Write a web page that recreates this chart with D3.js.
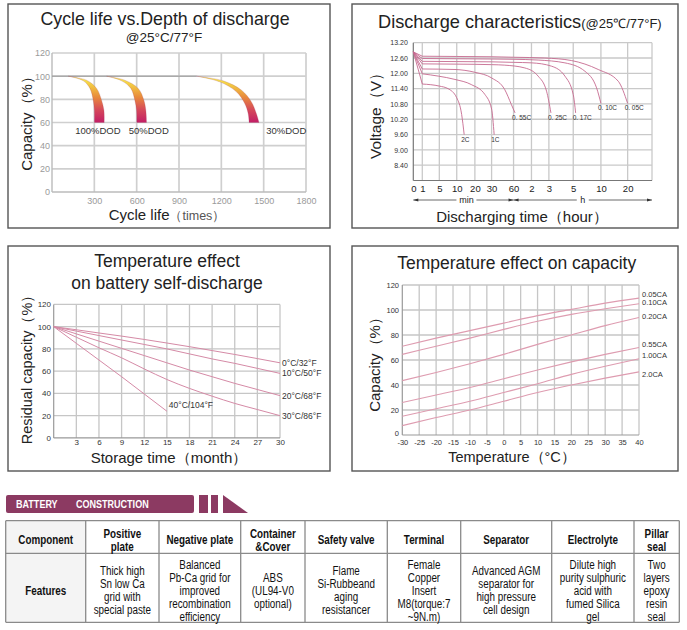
<!DOCTYPE html>
<html><head><meta charset="utf-8">
<script src="https://cdn.jsdelivr.net/npm/d3@7"></script>
<style>
body{margin:0;background:#fff}
svg{display:block}
text{font-family:"Liberation Sans",Arial,sans-serif}
</style>
</head><body>
<svg id="c" width="687" height="630"></svg>
<script>
// ================= DATA =================
// Panel 1: Cycle life vs depth of discharge
const cycleTicks = [300, 600, 900, 1200, 1500, 1800];
const capTicks = [0, 20, 40, 60, 80, 100, 120];
const dodLabels = ["100%DOD", "50%DOD", "30%DOD"];
const dodLabelAt = [325, 686, 1660];       // cycles
const dodInner = [
  [[115,100],[222,96],[269,89.4],[292,79.3],[300,70.6],[301,60]],
  [[387,100],[493,96],[559,89.4],[587,79.3],[599,70.6],[601,60]],
  [[1024,100],[1189,95.1],[1307,86.5],[1366,76.4],[1390,67.8],[1397,60]]
];
const dodOuter = [
  [[115,100],[245,96.5],[316,89.4],[351,79.3],[368,70.6],[370,60]],
  [[387,100],[516,96.5],[611,89.4],[651,79.3],[665,70.6],[670,60]],
  [[1024,100],[1213,96],[1343,87.9],[1413,77.8],[1448,67.8],[1467,60]]
];

// Panel 2: Discharge characteristics (time in minutes, voltage V)
const voltTicks = [8.4, 9.0, 9.6, 10.2, 10.8, 11.4, 12.0, 12.6, 13.2];
const timeTicks = [0, 1, 5, 10, 20, 30, 60, 120, 180, 300, 600, 1200];
const timeTickLabels = ["0","1","5","10","20","30","60","2","3","5","10","20"];
const rateNames = ["2C", "1C", "0. 55C", "0. 25C", "0. 17C", "0. 10C", "0. 05C"];
const rateCurves = [
  [[0,12.84],[1,11.58],[5,11.5],[7.5,11.4],[10,11.04],[12.7,10.39],[14.1,9.6]],
  [[0,12.84],[1,11.98],[4.8,11.89],[9.5,11.76],[18,11.56],[26,11.17],[30,10.6],[33.5,9.6]],
  [[0,12.84],[1,12.17],[9.5,12.15],[20,12.04],[30,11.82],[48,11.36],[57,10.78],[65,10.45]],
  [[0,12.84],[1,12.37],[10,12.36],[30,12.34],[48,12.32],[98,12.21],[143,11.89],[172,11.3],[190,10.45]],
  [[0,12.84],[1,12.47],[10,12.46],[30,12.45],[60,12.43],[121,12.41],[193,12.28],[259,11.89],[300,11.17],[326,10.45]],
  [[0,12.84],[1,12.58],[10,12.57],[30,12.56],[60,12.55],[143,12.52],[259,12.41],[427,12.08],[553,11.43],[600,10.82]],
  [[0,12.84],[1,12.67],[10,12.66],[30,12.65],[60,12.63],[166,12.6],[292,12.5],[571,12.15],[989,11.69],[1200,10.82]]
];

// Panel 3: self-discharge (months, residual capacity %)
const monthTicks = [3, 6, 9, 12, 15, 18, 21, 24, 27, 30];
const months = [0, 3, 6, 9, 12, 15, 18, 21, 24, 27, 30];
const storeNames = ["0°C/32°F", "10°C/50°F", "20°C/68°F", "30°C/86°F", "40°C/104°F"];
const storeValues = [
  [100, 97.2, 94.3, 91.5, 88.5, 85.3, 82, 78.5, 75, 71.3, 67.5],
  [100, 96, 92, 88, 84, 80, 75.5, 71, 67, 62.5, 58],
  [100, 93.5, 87, 80.5, 74, 67.5, 61, 55, 49, 43.5, 38],
  [100, 90.5, 81, 72, 62, 52.5, 44.5, 37.5, 31, 25.5, 20],
  [100, 85, 70, 55, 39.5, 24]
];

// Panel 4: temperature effect on capacity
const tempTicks = [-30,-25,-20,-15,-10,-5,0,5,10,15,20,25,30,35,40];
const temps = [-30, -20, -10, 0, 10, 20, 30, 40];
const caNames = ["0.05CA", "0.10CA", "0.20CA", "0.55CA", "1.00CA", "2.0CA"];
const caLabelAt = [112.8, 105.8, 95, 72.2, 63.4, 48.6];   // capacity level of each label
const caValues = [
  [71, 77.5, 83.5, 89.5, 95.5, 100.5, 105.5, 109.5],
  [64.5, 71, 77.5, 84.5, 91, 96.5, 101, 105],
  [43.5, 50, 57, 64.5, 72.5, 80, 87.5, 94],
  [26, 32, 38, 45, 52, 58.5, 64.5, 70],
  [15, 21, 27, 34, 41, 48.5, 55, 61],
  [7.5, 14, 20, 27, 34, 40, 45.5, 50.5]
];

// Table: battery construction
const tableHeaders = [["Component"],["Positive","plate"],["Negative plate"],["Container","&Cover"],["Safety valve"],["Terminal"],["Separator"],["Electrolyte"],["Pillar","seal"]];
const tableFeatures = [["Features"],
  ["Thick high","Sn low Ca","grid with","special paste"],
  ["Balanced","Pb-Ca grid for","improved","recombination","efficiency"],
  ["ABS","(UL94-V0","optional)"],
  ["Flame","Si-Rubbeand","aging","resistancer"],
  ["Female","Copper","Insert","M8(torque:7","~9N.m)"],
  ["Advanced AGM","separator for","high pressure","cell design"],
  ["Dilute high","purity sulphuric","acid with","fumed Silica","gel"],
  ["Two","layers","epoxy","resin","seal"]];

// ================= DRAW =================
const svg = d3.select("#c");
svg.append("rect").attr("width", 687).attr("height", 630).attr("fill", "#fff");
const defs = svg.append("defs");

function frame(x, y, w, h) {
  svg.append("rect").attr("x", x).attr("y", y).attr("width", w).attr("height", h)
    .attr("fill", "none").attr("stroke", "#555").attr("stroke-width", 1.4);
}
function grid(g, x, y, xv, yv, color, w) {
  const xr = x.range(), yr = y.range();
  const xa = xr[0], xb = xr[xr.length - 1], ya = yr[0], yb = yr[yr.length - 1];
  g.append("g").selectAll("line").data(xv).join("line")
    .attr("x1", d => x(d)).attr("x2", d => x(d)).attr("y1", ya).attr("y2", yb)
    .attr("stroke", color).attr("stroke-width", w);
  g.append("g").selectAll("line").data(yv).join("line")
    .attr("y1", d => y(d)).attr("y2", d => y(d)).attr("x1", xa).attr("x2", xb)
    .attr("stroke", color).attr("stroke-width", w);
}
function styleAxis(g, ff, fs, fill) {
  g.select(".domain").remove();
  g.selectAll(".tick line").remove();
  g.attr("font-family", ff).attr("font-size", fs);
  g.selectAll("text").attr("fill", fill);
}
function axisLine(g, x1, y1, x2, y2, c, w) {
  g.append("line").attr("x1", x1).attr("y1", y1).attr("x2", x2).attr("y2", y2)
    .attr("stroke", c).attr("stroke-width", w);
}
function yLabel(x, y, txt, fs) {
  svg.append("text").attr("transform", `translate(${x},${y}) rotate(-90)`)
    .attr("text-anchor", "middle").attr("dominant-baseline", "central")
    .attr("font-size", fs).attr("fill", "#222").text(txt);
}
// condense text horizontally (narrow face not installed)
function condense(sel, k) {
  sel.each(function () {
    const w = this.getComputedTextLength();
    d3.select(this).attr("textLength", w * k).attr("lengthAdjust", "spacingAndGlyphs");
  });
}
const plain = d => String(d);

// ---------- Panel 1 ----------
frame(8, 4, 322, 224);
{
  const g = svg.append("g");
  const x = d3.scaleLinear().domain([0, 1800]).range([52, 306]);
  const y = d3.scaleLinear().domain([0, 120]).range([192, 53]);
  grid(g, x, y, cycleTicks, capTicks.slice(1), "#cfcfcf", 1.7);
  axisLine(g, x(0), y(0), x(0), y(120), "#bbb", 1.4);
  axisLine(g, x(0), y(0), x(1800), y(0), "#bbb", 1.4);
  axisLine(g, x(0), y(100), x(dodInner[2][0][0]), y(100), "#8a8a8a", 0.8);
  const grad = defs.append("linearGradient").attr("id", "dodGrad")
    .attr("gradientUnits", "userSpaceOnUse").attr("x1", 0).attr("x2", 0)
    .attr("y1", y(100)).attr("y2", y(60));
  [[0, "#fbf262"], [0.15, "#f4d343"], [0.45, "#e88a3c"], [0.72, "#d64a5a"], [1, "#c21e66"]]
    .forEach(s => grad.append("stop").attr("offset", s[0]).attr("stop-color", s[1]));
  const ln = d3.line().x(d => x(d[0])).y(d => y(d[1])).curve(d3.curveCatmullRom);
  dodInner.forEach((inner, i) => {
    const outer = dodOuter[i].slice().reverse();
    const p = ln(inner) + ln(outer).replace(/^M/, "L") + "Z";
    g.append("path").attr("d", p).attr("fill", "url(#dodGrad)")
      .attr("stroke", "#9a3a5a").attr("stroke-opacity", 0.35).attr("stroke-width", 0.6);
    g.append("text").attr("x", x(dodLabelAt[i])).attr("y", y(50)).attr("text-anchor", "middle")
      .attr("font-size", 9.5).attr("fill", "#333").text(dodLabels[i]);
  });
  const ax = g.append("g").attr("transform", `translate(0,${y(0)})`)
    .call(d3.axisBottom(x).tickValues(cycleTicks).tickSize(0).tickPadding(5.5).tickFormat(plain));
  styleAxis(ax, "Liberation Serif", 9, "#9a9a9a");
  const ay = g.append("g").attr("transform", `translate(${x(0)},0)`)
    .call(d3.axisLeft(y).tickValues(capTicks).tickSize(0).tickPadding(2).tickFormat(plain));
  styleAxis(ay, "Liberation Serif", 9, "#9a9a9a");
  svg.append("text").attr("x", 165).attr("y", 25).attr("text-anchor", "middle")
    .attr("font-size", 17.8).attr("fill", "#222").text("Cycle life vs.Depth of discharge");
  svg.append("text").attr("x", 164).attr("y", 42).attr("text-anchor", "middle")
    .attr("font-size", 13.5).attr("fill", "#222").text("@25°C/77°F");
  yLabel(26, 120, "Capacity（%）", 15);
  const xl = svg.append("text").attr("x", 167).attr("y", 220).attr("text-anchor", "middle")
    .attr("fill", "#222").attr("font-size", 15);
  xl.append("tspan").text("Cycle life");
  xl.append("tspan").attr("font-size", 12.5).attr("fill", "#555").text("（times）");
}

// ---------- Panel 2 ----------
frame(352, 4, 326, 224);
{
  const g = svg.append("g");
  const L = 413.3, W = 238.7;
  const frac = [0, .0377, .109, .182, .258, .328, .42, .495, .568, .67, .786, .898, 1];
  const x = d3.scaleLinear().domain(timeTicks.concat([2400])).range(frac.map(f => L + f * W));
  const y = d3.scaleLinear().domain([7.8, 13.2]).range([180.5, 42.7]);
  grid(g, x, y, timeTicks.slice(1).concat([2400]), voltTicks, "#c9c9c9", 1.3);
  axisLine(g, L, y(7.8), L, y(13.2), "#777", 1.2);
  axisLine(g, L, y(7.8), L + W, y(7.8), "#777", 1.2);
  const lin = d3.line().x(d => x(d[0])).y(d => y(d[1]));
  const crv = d3.line().x(d => x(d[0])).y(d => y(d[1])).curve(d3.curveMonotoneX);
  rateCurves.forEach((c) => {
    g.append("path").attr("d", lin(c.slice(0, 2)) + crv(c.slice(1)).replace(/^M[^LC]*/, ""))
      .attr("fill", "none").attr("stroke", "#c66a90").attr("stroke-width", 0.9);
  });
  rateCurves.forEach((c, i) => {
    const e = c[c.length - 1];
    g.append("text").attr("x", x(e[0]) - 3).attr("y", y(e[1]) + 7)
      .attr("font-family", "Liberation Serif").attr("font-size", 6.5).attr("fill", "#333")
      .text(rateNames[i]);
  });
  const ay = g.append("g").attr("transform", `translate(${L},0)`)
    .call(d3.axisLeft(y).tickValues(voltTicks).tickSize(0).tickPadding(5.5).tickFormat(d3.format(".2f")));
  styleAxis(ay, "Liberation Sans", 7, "#333");
  const ax = g.append("g").attr("transform", `translate(0,${y(7.8)})`)
    .call(d3.axisBottom(x).tickValues(timeTicks).tickSize(0).tickPadding(5)
      .tickFormat((d, i) => timeTickLabels[i]));
  styleAxis(ax, "Liberation Sans", 9.5, "#222");
  const ry = 200, xm = x(60), xe = L + W;
  const ar = (xp, dir) => g.append("path")
    .attr("d", `M${xp},${ry} l${-dir * 5},-1.6 l0,3.2 Z`).attr("fill", "#333");
  const cmin = (L + xm) / 2 + 3, ch = (xm + xe) / 2;
  [[L, cmin - 10], [cmin + 10, xm], [xm, ch - 6], [ch + 6, xe]].forEach(s =>
    axisLine(g, s[0], ry, s[1], ry, "#444", 0.8));
  ar(L, -1); ar(xm, 1); ar(xm, -1); ar(xe, 1);
  g.append("text").attr("x", cmin).attr("y", ry + 3).attr("text-anchor", "middle")
    .attr("font-size", 9).attr("fill", "#222").text("min");
  g.append("text").attr("x", ch).attr("y", ry + 3).attr("text-anchor", "middle")
    .attr("font-size", 9).attr("fill", "#222").text("h");
  const t = svg.append("text").attr("x", 378).attr("y", 28).attr("fill", "#222");
  t.append("tspan").attr("font-size", 18.2).text("Discharge characteristics");
  t.append("tspan").attr("font-size", 13).text("(@25℃/77°F)");
  yLabel(375, 112, "Voltage（V）", 15.5);
  svg.append("text").attr("x", 522).attr("y", 221.5).attr("text-anchor", "middle")
    .attr("font-size", 15).attr("fill", "#222").text("Discharging time（hour）");
}

// ---------- Panel 3 ----------
frame(8, 246, 322, 225);
{
  const g = svg.append("g");
  const x = d3.scaleLinear().domain([0, 30]).range([53.7, 280]);
  const y = d3.scaleLinear().domain([0, 120]).range([437.9, 304.4]);
  grid(g, x, y, monthTicks, capTicks.slice(1), "#c6c6c6", 1.3);
  axisLine(g, x(0), y(0), x(0), y(120), "#999", 1.2);
  axisLine(g, x(0), y(0), x(30), y(0), "#999", 1.2);
  const ln = d3.line().x((d, i) => x(months[i])).y(d => y(d)).curve(d3.curveMonotoneX);
  storeValues.forEach((v, i) => {
    g.append("path").attr("d", ln(v)).attr("fill", "none").attr("stroke", "#d58aa6").attr("stroke-width", 1);
    const last = v.length - 1;
    const isIn = last < months.length - 1;
    g.append("text").attr("x", x(months[last]) + 2).attr("y", y(v[last]) + (isIn ? -3 : 3))
      .attr("font-size", 8.5).attr("fill", "#333").text(storeNames[i]);
  });
  const ax = g.append("g").attr("transform", `translate(0,${y(0)})`)
    .call(d3.axisBottom(x).tickValues(monthTicks).tickSize(0).tickPadding(1.5).tickFormat(plain));
  styleAxis(ax, "Liberation Sans", 8, "#333");
  const ay = g.append("g").attr("transform", `translate(${x(0)},0)`)
    .call(d3.axisLeft(y).tickValues(capTicks).tickSize(0).tickPadding(2.7).tickFormat(plain));
  styleAxis(ay, "Liberation Sans", 8, "#333");
  svg.append("text").attr("x", 167).attr("y", 266.7).attr("text-anchor", "middle")
    .attr("font-size", 17.5).attr("fill", "#222").text("Temperature effect");
  svg.append("text").attr("x", 167).attr("y", 289.3).attr("text-anchor", "middle")
    .attr("font-size", 17.5).attr("fill", "#222").text("on battery self-discharge");
  yLabel(27, 366, "Residual capacity（%）", 14.5);
  svg.append("text").attr("x", 169).attr("y", 462.5).attr("text-anchor", "middle")
    .attr("font-size", 15).attr("fill", "#222").text("Storage time（month）");
}

// ---------- Panel 4 ----------
frame(352, 246, 326, 225);
{
  const g = svg.append("g");
  const x = d3.scaleLinear().domain([-30, 40]).range([402.3, 639]);
  const y = d3.scaleLinear().domain([0, 120]).range([435, 285]);
  grid(g, x, y, tempTicks.slice(1), capTicks.slice(1), "#c6c6c6", 1.3);
  axisLine(g, x(-30), y(0), x(-30), y(120), "#999", 1.2);
  axisLine(g, x(-30), y(0), x(40), y(0), "#999", 1.2);
  const ln = d3.line().x((d, i) => x(temps[i])).y(d => y(d)).curve(d3.curveMonotoneX);
  caValues.forEach((v, i) => {
    g.append("path").attr("d", ln(v)).attr("fill", "none").attr("stroke", "#de9cb0").attr("stroke-width", 1.1);
    g.append("text").attr("x", x(40) + 3).attr("y", y(caLabelAt[i]) + 2.7)
      .attr("font-size", 7.5).attr("fill", "#333").text(caNames[i]);
  });
  const ax = g.append("g").attr("transform", `translate(0,${y(0)})`)
    .call(d3.axisBottom(x).tickValues(tempTicks).tickSize(0).tickPadding(4.7).tickFormat(plain));
  styleAxis(ax, "Liberation Sans", 7.5, "#333");
  const ay = g.append("g").attr("transform", `translate(${x(-30)},0)`)
    .call(d3.axisLeft(y).tickValues(capTicks).tickSize(0).tickPadding(3.3).tickFormat(plain));
  styleAxis(ay, "Liberation Sans", 7.5, "#333");
  ay.selectAll("text").attr("dy", d => d === 0 ? "0" : "0.32em");
  svg.append("text").attr("x", 516.7).attr("y", 269.3).attr("text-anchor", "middle")
    .attr("font-size", 17.5).attr("fill", "#222").text("Temperature effect on capacity");
  yLabel(374, 361, "Capacity（%）", 15);
  svg.append("text").attr("x", 512).attr("y", 462).attr("text-anchor", "middle")
    .attr("font-size", 14.5).attr("fill", "#222").text("Temperature（°C）");
}

// ---------- Banner ----------
{
  const c = "#8c3a62";
  const g = svg.append("g");
  g.append("rect").attr("x", 6).attr("y", 495).attr("width", 188).attr("height", 18).attr("rx", 2).attr("fill", c);
  g.append("rect").attr("x", 199).attr("y", 495).attr("width", 9).attr("height", 18).attr("fill", c);
  g.append("rect").attr("x", 211).attr("y", 495).attr("width", 7).attr("height", 18).attr("fill", c);
  g.append("path").attr("d", "M223,495 L248,513 L223,513 Z").attr("fill", c);
  const b1 = g.append("text").attr("x", 16).attr("y", 508).attr("font-weight", "bold")
    .attr("font-size", 11).attr("fill", "#fff").text("BATTERY");
  const b2 = g.append("text").attr("x", 76).attr("y", 508).attr("font-weight", "bold")
    .attr("font-size", 11).attr("fill", "#fff").text("CONSTRUCTION");
  condense(b1, 0.82); condense(b2, 0.82);
}

// ---------- Table ----------
{
  const g = svg.append("g");
  const cols = [5.7, 85.7, 159, 240.7, 305, 387.3, 460.7, 551.7, 634, 679.3];
  const rows = [520.7, 553.3, 622.3];
  g.append("rect").attr("x", cols[0]).attr("y", rows[0]).attr("width", cols[1] - cols[0])
    .attr("height", rows[2] - rows[0]).attr("fill", "#f4f4f4");
  cols.forEach(cx => axisLine(g, cx, rows[0], cx, rows[2], "#8a8a8a", 1.3));
  rows.forEach(ry => axisLine(g, cols[0], ry, cols[cols.length - 1], ry, "#8a8a8a", 1.3));
  function cell(lines, ci, cyc, lh, bold) {
    const cx = (cols[ci] + cols[ci + 1]) / 2;
    const y0 = cyc - (lines.length - 1) * lh / 2 + 4.2;
    const t = g.append("g").selectAll("text").data(lines).join("text")
      .attr("x", cx).attr("y", (d, i) => y0 + i * lh).attr("text-anchor", "middle")
      .attr("font-size", 12).attr("font-weight", bold ? "bold" : "normal")
      .attr("fill", "#111").text(d => d);
    condense(t, 0.82);
  }
  tableHeaders.forEach((h, i) => cell(h, i, 540, 12.7, true));
  tableFeatures.forEach((f, i) => cell(f, i, 590.5, 13, i === 0));
}
</script>
</body></html>
